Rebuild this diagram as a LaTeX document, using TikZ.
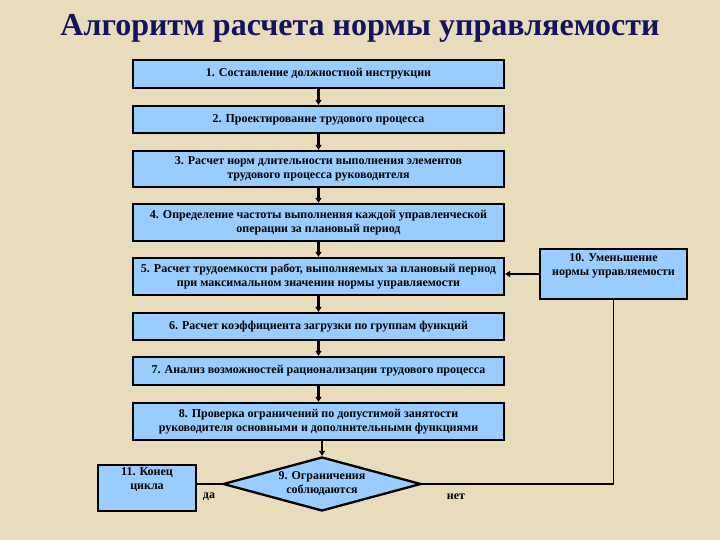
\documentclass[tikz,border=0pt]{standalone}
\usepackage{fontspec}
\setmainfont{Liberation Serif}
\usetikzlibrary{shapes.geometric,arrows.meta}
\definecolor{bg}{HTML}{E9DCBC}
\definecolor{boxfill}{HTML}{99CCFF}
\definecolor{titlecol}{HTML}{14145E}
\tikzset{
  txt/.style={font=\bfseries\fontsize{12}{14}\selectfont},
  stepbox/.style={draw=black, line width=2.3pt, fill=boxfill, inner sep=0pt,
    minimum width=371pt, align=center, txt},
  smallbox/.style={draw=black, line width=2.3pt, fill=boxfill, inner sep=0pt,
    align=center, txt},
  flow/.style={line width=2.3pt, -{Triangle[length=5pt,width=6pt]}},
  plain/.style={line width=1.8pt},
  lbl/.style={txt, inner sep=0pt}
}
\begin{document}
\begin{tikzpicture}[x=1pt,y=-1pt]
\fill[bg] (0,0) rectangle (720,540);
\useasboundingbox (0,0) rectangle (720,540);
\node[font=\bfseries\fontsize{32}{36}\selectfont, text=titlecol] (title) at (360,28) {Алгоритм расчета нормы управляемости};
\node[stepbox, minimum height=28pt] (b1) at (318.5,74) {1. Составление должностной инструкции};
\node[stepbox, minimum height=27pt] (b2) at (318.5,119.5) {2. Проектирование трудового процесса};
\node[stepbox, minimum height=36pt] (b3) at (318.5,169) {3. Расчет норм длительности выполнения элементов\\трудового процесса руководителя};
\node[stepbox, minimum height=37pt] (b4) at (318.5,222.5) {4. Определение частоты выполнения каждой управленческой\\операции за плановый период};
\node[stepbox, minimum height=37pt] (b5) at (318.5,276.5) {5. Расчет трудоемкости работ, выполняемых за плановый период\\при максимальном значении нормы управляемости};
\node[stepbox, minimum height=27pt] (b6) at (318.5,326.5) {6. Расчет коэффициента загрузки по группам функций};
\node[stepbox, minimum height=28pt] (b7) at (318.5,371) {7. Анализ возможностей рационализации трудового процесса};
\node[stepbox, minimum height=37pt] (b8) at (318.5,421.5) {8. Проверка ограничений по допустимой занятости\\руководителя основными и дополнительными функциями};
\node[diamond, draw=black, line width=2.3pt, fill=boxfill, inner sep=0pt, aspect=3.67,
  minimum width=198pt, minimum height=54pt, align=center, txt] (d9) at (322,484) {9. Ограничения\\соблюдаются};
\node[smallbox, minimum width=147pt, minimum height=50pt] (b10) at (613.5,274) {10. Уменьшение\\нормы управляемости\\[4pt]};
\node[smallbox, minimum width=98pt, minimum height=46pt] (b11) at (147,488) {11. Конец\\цикла\\[4pt]};
\draw[flow] (b1) -- (b2);
\draw[flow] (b2) -- (b3);
\draw[flow] (b3) -- (b4);
\draw[flow] (b4) -- (b5);
\draw[flow] (b5) -- (b6);
\draw[flow] (b6) -- (b7);
\draw[flow] (b7) -- (b8);
\draw[flow] (b8.south -| d9.north) -- (d9.north);
\draw[flow] (b10.west) -- (b10.west -| b5.east);
\draw[plain] (d9.east) -| (b10.south);
\draw[plain] (d9.west) -- (d9.west -| b11.east);
\node[lbl] (yes) at (209,497) {да};
\node[lbl] (no) at (456,497) {нет};
\end{tikzpicture}
\end{document}
